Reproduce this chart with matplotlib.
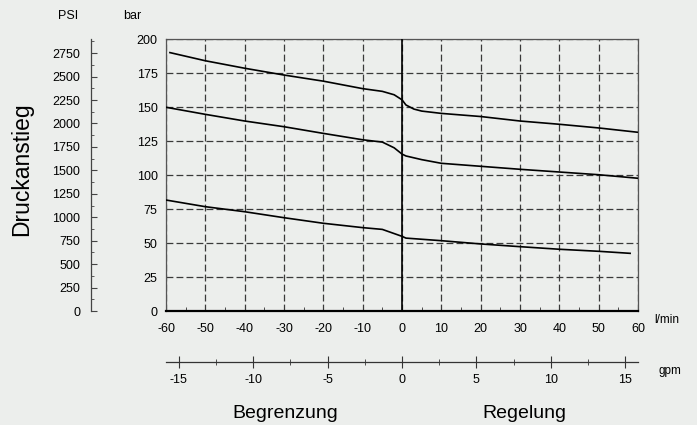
import numpy as np
import matplotlib
matplotlib.use("Agg")
import matplotlib.pyplot as plt
from matplotlib.ticker import MultipleLocator

# ---- data (flow l/min -> pressure rise bar) ----
flow_top = [-59, -50, -40, -30, -20, -10, -5, -2, 0, 1, 3, 5, 10, 20, 30, 40, 50, 60]
bar_top = [190, 184, 178.5, 173.5, 169, 163.5, 161.5, 159, 155.3, 151.5, 148.5, 147,
           145.3, 143, 139.7, 137.3, 134.6, 131.4]

flow_mid = [-60, -50, -40, -30, -20, -10, -5, -2, 0, 1, 5, 10, 20, 30, 40, 50, 60]
bar_mid = [149.8, 144.6, 139.7, 135.5, 130.6, 125.9, 124.2, 120, 115.4, 114, 111.3,
           108.6, 106.4, 104.2, 102.2, 100.2, 97.6]

flow_low = [-60, -50, -40, -30, -20, -10, -5, 0, 1, 10, 20, 30, 40, 50, 58]
bar_low = [81.6, 76.7, 73, 68.6, 64.5, 61.3, 60, 54.9, 53.6, 51.7, 49.3, 47.3, 45.4,
           43.9, 42.4]

flow_ticks = list(range(-60, 61, 10))
bar_ticks = list(range(0, 201, 25))
psi_ticks = list(range(0, 2751, 250))
gpm_ticks = [-15, -10, -5, 0, 5, 10, 15]

BAR_TO_PSI = 14.5038
LPM_PER_GPM = 3.785

bg = "#eceeec"
W, H = 697, 425
plt.rcParams['font.family'] = ['Liberation Sans', 'DejaVu Sans']
plt.rcParams['axes.unicode_minus'] = False

fig = plt.figure(figsize=(W / 100, H / 100), dpi=100, facecolor=bg)

# main chart
left, right, top, bottom = 166, 638, 39, 311
ax = fig.add_axes([left / W, 1 - bottom / H, (right - left) / W, (bottom - top) / H])
ax.set_facecolor(bg)
ax.set_xlim(-60, 60)
ax.set_ylim(0, 200)
ax.set_xticks(flow_ticks)
ax.set_yticks(bar_ticks)
ax.xaxis.set_minor_locator(MultipleLocator(5))
ax.tick_params(axis='y', length=0, pad=6, labelsize=9)
ax.tick_params(axis='x', which='major', length=0, pad=8.5, labelsize=9)
ax.tick_params(axis='x', which='minor', direction='in', length=3, color='#333333')
ax.grid(True, linestyle=(0, (5.5, 2.5)), color='#3a3a3a', linewidth=0.9)
for s in ['top', 'right', 'left']:
    ax.spines[s].set_color('#555555')
    ax.spines[s].set_linewidth(0.9)
ax.spines['bottom'].set_color('black')
ax.spines['bottom'].set_linewidth(1.6)
ax.axvline(0, color='black', linewidth=1.2, zorder=3)

for fx, by in [(flow_top, bar_top), (flow_mid, bar_mid), (flow_low, bar_low)]:
    ax.plot(fx, by, color='black', linewidth=1.2, zorder=4)

# PSI scale
psi_x = 90.7
axp = fig.add_axes([psi_x / W, 1 - bottom / H, 0.0005, (bottom - top) / H])
axp.set_facecolor('none')
axp.set_ylim(0, 200 * BAR_TO_PSI)
axp.set_yticks(psi_ticks)
axp.yaxis.set_minor_locator(MultipleLocator(125))
axp.set_xticks([])
for s in ['top', 'right', 'bottom']:
    axp.spines[s].set_visible(False)
axp.spines['left'].set_color('#444444')
axp.spines['left'].set_linewidth(0.9)
axp.tick_params(axis='y', which='major', direction='in', length=4, pad=7.5, labelsize=9,
                color='#444444')
axp.tick_params(axis='y', which='minor', direction='in', length=2.5, color='#444444')

# gpm scale
gpm_y = 361.7
axg = fig.add_axes([left / W, 1 - gpm_y / H, (right - left) / W, 0.0005])
axg.set_facecolor('none')
axg.set_xlim(-60 / LPM_PER_GPM, 60 / LPM_PER_GPM)
axg.set_xticks(gpm_ticks)
axg.set_xticklabels([str(v) for v in gpm_ticks])
axg.xaxis.set_minor_locator(MultipleLocator(2.5))
axg.set_yticks([])
for s in ['top', 'right', 'left']:
    axg.spines[s].set_visible(False)
axg.spines['bottom'].set_color('#333333')
axg.spines['bottom'].set_linewidth(0.9)
axg.tick_params(axis='x', which='major', direction='inout', length=8, pad=5, labelsize=9,
                color='#333333')
axg.tick_params(axis='x', which='minor', direction='inout', length=4, color='#333333')

# labels
fig.text(68 / W, 1 - 16 / H, "PSI", ha='center', va='center', fontsize=9)
fig.text(132 / W, 1 - 16 / H, "bar", ha='center', va='center', fontsize=9)
fig.text(667 / W, 1 - 320 / H, "l/min", ha='center', va='center', fontsize=8.5)
fig.text(670 / W, 1 - 371 / H, "gpm", ha='center', va='center', fontsize=8.5)
fig.text(22 / W, 1 - 169 / H, "Druckanstieg", rotation=90, ha='center', va='center',
         fontsize=16.5)
fig.text(285 / W, 1 - 413 / H, "Begrenzung", ha='center', va='center', fontsize=14)
fig.text(524 / W, 1 - 413 / H, "Regelung", ha='center', va='center', fontsize=14)

fig.savefig("out.png", dpi=100, facecolor=bg)
